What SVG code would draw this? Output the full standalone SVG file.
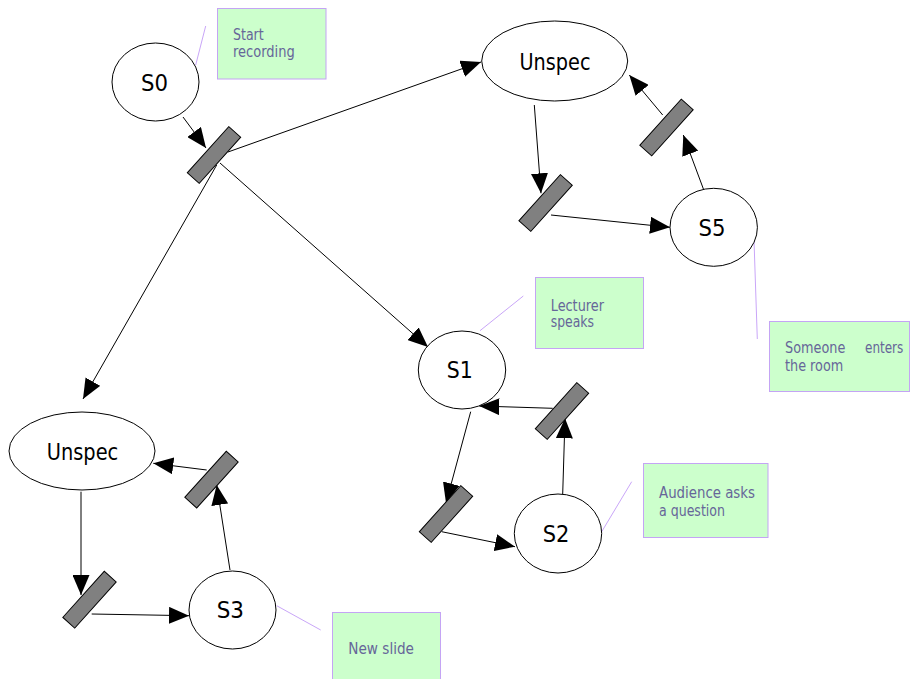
<svg xmlns="http://www.w3.org/2000/svg" width="910" height="679" viewBox="0 0 910 679">
<defs>
<style>
.st{fill:#fff;stroke:#000;stroke-width:1}
.bar{fill:#808080;stroke:#000;stroke-width:1}
.lbl{font-family:"DejaVu Sans",sans-serif;font-size:23px;fill:#000;text-anchor:middle}
.note{fill:#ccffcc;stroke:#c4a4f4;stroke-width:1}
.ntx{font-family:"DejaVu Sans",sans-serif;font-size:15.5px;fill:#666699}
.call{stroke:#c9a6f8;stroke-width:1;fill:none}
.edge{stroke:#000;stroke-width:1;fill:none;marker-end:url(#ah)}
</style>
<marker id="ah" markerUnits="userSpaceOnUse" markerWidth="20" markerHeight="17" refX="20" refY="8.5" orient="auto" viewBox="0 0 20 17">
<path d="M0,0 L20,8.5 L0,17 z" fill="#000"/>
</marker>
</defs>

<g id="connectors">
<line class="edge" x1="183" y1="117" x2="206" y2="148"/>
<line class="edge" x1="228" y1="152" x2="481" y2="62"/>
<line class="edge" x1="220" y1="163" x2="428" y2="347"/>
<line class="edge" x1="216.7" y1="165" x2="83" y2="399"/>
<line class="edge" x1="534.3" y1="105" x2="541" y2="193.3"/>
<line class="edge" x1="551" y1="215" x2="670" y2="227.3"/>
<line class="edge" x1="705" y1="193.3" x2="683.3" y2="135"/>
<line class="edge" x1="662.7" y1="115" x2="629.3" y2="75"/>
<line class="edge" x1="470.7" y1="411.7" x2="446" y2="503"/>
<line class="edge" x1="441.7" y1="531.7" x2="515" y2="546.7"/>
<line class="edge" x1="562.7" y1="494" x2="565" y2="418.3"/>
<line class="edge" x1="552.7" y1="408.3" x2="479.3" y2="406"/>
<line class="edge" x1="81" y1="491.7" x2="81" y2="595"/>
<line class="edge" x1="91.7" y1="614" x2="189" y2="615.7"/>
<line class="edge" x1="230" y1="570" x2="216.7" y2="485"/>
<line class="edge" x1="206.7" y1="470" x2="153.3" y2="463.3"/>
</g>

<g id="callouts">
<line class="call" x1="205.7" y1="26" x2="195.7" y2="65"/>
<line class="call" x1="523.3" y1="296" x2="480" y2="330.7"/>
<line class="call" x1="631.7" y1="481.7" x2="601.7" y2="531.7"/>
<line class="call" x1="754" y1="240" x2="757.3" y2="339"/>
<line class="call" x1="276.7" y1="605.7" x2="320.7" y2="630"/>
</g>

<g id="S0"><ellipse class="st" cx="155.5" cy="82" rx="43.5" ry="39"/><text class="lbl" x="154.5" y="90.5" textLength="27" lengthAdjust="spacingAndGlyphs">S0</text></g>
<g id="T0"><rect class="bar" x="-31" y="-8" width="62" height="16" transform="translate(214,155) rotate(-48)"/></g>

<g id="Unspec1"><ellipse class="st" cx="554.7" cy="61" rx="73" ry="40"/><text class="lbl" x="555" y="70" textLength="71" lengthAdjust="spacingAndGlyphs">Unspec</text></g>
<g id="T5a"><rect class="bar" x="-31" y="-8" width="62" height="16" transform="translate(545.6,203) rotate(-48)"/></g>
<g id="S5"><ellipse class="st" cx="713.7" cy="227.3" rx="43.7" ry="39"/><text class="lbl" x="712" y="235.5" textLength="27" lengthAdjust="spacingAndGlyphs">S5</text></g>
<g id="T5b"><rect class="bar" x="-31" y="-8" width="62" height="16" transform="translate(666.5,127.5) rotate(-48)"/></g>

<g id="S1"><ellipse class="st" cx="462" cy="370" rx="43.7" ry="39"/><text class="lbl" x="459.7" y="378.3" textLength="26" lengthAdjust="spacingAndGlyphs">S1</text></g>
<g id="T1a"><rect class="bar" x="-31" y="-8" width="62" height="16" transform="translate(446,514) rotate(-48)"/></g>
<g id="S2"><ellipse class="st" cx="558" cy="533.5" rx="43.7" ry="39.5"/><text class="lbl" x="556" y="541.7" textLength="26.7" lengthAdjust="spacingAndGlyphs">S2</text></g>
<g id="T1b"><rect class="bar" x="-31" y="-8" width="62" height="16" transform="translate(562,411) rotate(-48)"/></g>

<g id="Unspec2"><ellipse class="st" cx="82" cy="451" rx="73" ry="39"/><text class="lbl" x="82.5" y="460" textLength="71.5" lengthAdjust="spacingAndGlyphs">Unspec</text></g>
<g id="T3a"><rect class="bar" x="-31" y="-8" width="62" height="16" transform="translate(89.5,599.7) rotate(-48)"/></g>
<g id="S3"><ellipse class="st" cx="232.5" cy="610" rx="43.5" ry="39"/><text class="lbl" x="230.3" y="618.3" textLength="27.3" lengthAdjust="spacingAndGlyphs">S3</text></g>
<g id="T3b"><rect class="bar" x="-31" y="-8" width="62" height="16" transform="translate(211.5,479.6) rotate(-48)"/></g>

<g id="note0"><rect class="note" x="217.5" y="8.5" width="108.5" height="70.5"/><text class="ntx"><tspan x="233" y="40" textLength="30.7" lengthAdjust="spacingAndGlyphs">Start</tspan><tspan x="233" y="57.3" textLength="61.7" lengthAdjust="spacingAndGlyphs">recording</tspan></text></g>
<g id="note1"><rect class="note" x="535.5" y="277.5" width="108" height="71"/><text class="ntx"><tspan x="550.7" y="310.7" textLength="53.3" lengthAdjust="spacingAndGlyphs">Lecturer</tspan><tspan x="550.7" y="327.3" textLength="43.3" lengthAdjust="spacingAndGlyphs">speaks</tspan></text></g>
<g id="note2"><rect class="note" x="643.5" y="463.5" width="124.5" height="74"/><text class="ntx"><tspan x="659" y="498.3" textLength="96" lengthAdjust="spacingAndGlyphs">Audience asks</tspan><tspan x="659" y="516" textLength="66" lengthAdjust="spacingAndGlyphs">a question</tspan></text></g>
<g id="note5"><rect class="note" x="769.5" y="321.5" width="140" height="70"/><text class="ntx"><tspan x="785" y="353.3" textLength="60.3" lengthAdjust="spacingAndGlyphs">Someone</tspan><tspan x="865" y="353.3" textLength="38.3" lengthAdjust="spacingAndGlyphs">enters</tspan><tspan x="785" y="371" textLength="58.3" lengthAdjust="spacingAndGlyphs">the room</tspan></text></g>
<g id="note3"><rect class="note" x="332.5" y="612.5" width="108" height="70"/><text class="ntx"><tspan x="348.3" y="654.3" textLength="65.7" lengthAdjust="spacingAndGlyphs">New slide</tspan></text></g>
</svg>
